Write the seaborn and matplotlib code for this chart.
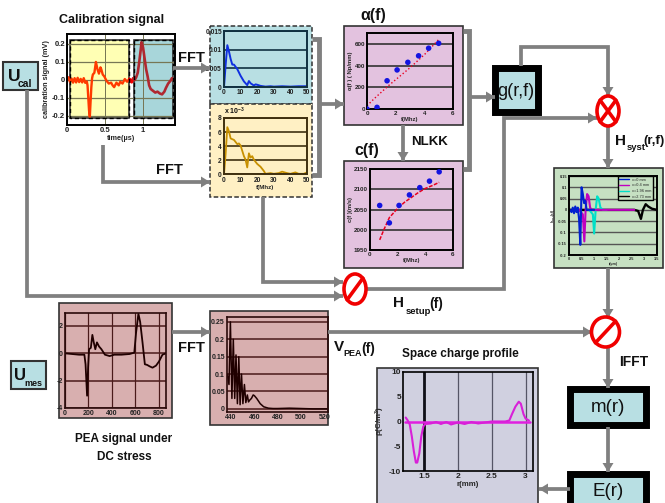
import matplotlib
matplotlib.use("Agg")
import matplotlib.pyplot as plt
from matplotlib.patches import Rectangle, Ellipse, Polygon
import seaborn as sns

sns.set_theme(style="white")
plt.rcParams['font.family'] = ['Liberation Sans', 'DejaVu Sans']
plt.rcParams['mathtext.fontset'] = 'custom'
plt.rcParams['mathtext.rm'] = 'Liberation Sans:bold'
plt.rcParams['mathtext.default'] = 'rm'

# ---------- data ----------
cal_time = [0, .02, .04, .06, .08, .1, .12, .14, .16, .18, .2, .22, .24, .26, .27, .28, .29, .3, .31, .32, .33, .34, .36, .37, .38, .4, .42, .44, .45, .47, .49, .52, .55, .58, .6, .62, .65, .68, .7, .73, .76, .79, .82, .85, .87, .89, .91, .93, .95, .97, .98, 1.0, 1.02, 1.04, 1.06, 1.08, 1.1, 1.13, 1.16, 1.19, 1.22, 1.25, 1.28, 1.3, 1.33, 1.36, 1.38, 1.4]
cal_signal = [0, .012, -.012, .008, -.015, .01, -.014, .012, -.012, .006, -.014, .01, -.016, -.008, -.03, -.1, -.17, -.205, -.12, -.04, .01, .03, .04, .07, .1, .06, .035, .07, .06, .03, .02, -.005, -.02, -.015, -.03, -.04, -.015, -.03, -.01, -.02, .005, -.01, .005, -.012, .008, 0, .015, .04, .1, .17, .21, .18, .12, .06, .02, -.03, -.05, -.06, -.07, -.065, -.075, -.08, -.065, -.045, -.02, -.005, .01, 0]

fft_freq = [0, 1, 2, 3, 4, 5, 6, 7, 8, 10, 12, 14, 15, 16, 18, 19, 20, 22, 25, 28, 30, 35, 40, 45, 50]
fft_teal = [0, .006, .0112, .0095, .0075, .006, .006, .0054, .0048, .003, .0015, .0005, .0016, .001, .0004, .0007, .0006, .0003, .0001, .0002, .0001, .0002, .0001, .0002, .0002]
fft_y_freq = [0, 1, 2, 3, 4, 6, 8, 9, 10, 12, 13, 14, 15, 16, 17, 18, 20, 22, 24, 25, 28, 30, 33, 35, 38, 40, 43, 45, 48, 50]
fft_yellow = [0, 3, 6.7, 6.1, 5.1, 4.9, 4.3, 4.4, 4.1, 2.6, 2.1, 1, 3, 2.4, 2.6, 2.1, 1.5, 1.1, .5, .1, .2, .1, .2, .4, .2, .1, .3, .1, .1, .3]

alpha_f = [0, .7, 1.4, 2.1, 2.85, 3.6, 4.3, 5]
alpha_val = [0, 15, 260, 360, 430, 490, 560, 605]
alpha_fit_f = [0, .5, 1, 1.5, 2, 2.5, 3, 3.5, 4, 4.5, 5]
alpha_fit = [30, 95, 155, 215, 270, 325, 380, 440, 500, 570, 640]

c_f = [.7, 1.4, 2.1, 2.85, 3.6, 4.3, 5]
c_val = [2060, 2017, 2060, 2086, 2104, 2120, 2143]
c_fit_f = [.7, 1, 1.4, 2, 2.5, 3, 3.5, 4, 4.5, 5]
c_fit = [1975, 2000, 2030, 2053, 2068, 2080, 2092, 2102, 2109, 2117]

h_r0 = [0, .1, .15, .2, .25, .3, .35, .4, .45, .5, .55, .6, .65, .7, .8, 1]
h_v0 = [.005, -.01, .01, -.015, .015, -.01, .01, -.04, -.155, .1, .07, .03, .04, 0, 0, 0]
h_r1 = [.4, .55, .61, .66, .72, .78, .84, .9, 1.2, 2.6]
h_v1 = [0, -.02, -.14, 0, .07, .06, .01, 0, 0, 0]
h_r2 = [.8, .95, 1.0, 1.06, 1.12, 1.18, 1.25, 1.35, 1.5]
h_v2 = [0, -.02, -.105, 0, .06, .05, .01, 0, 0]
h_r3 = [0, 2.6, 2.75, 2.86, 2.94, 3.05, 3.15, 3.3, 3.5]
h_v3 = [0, 0, -.005, -.04, 0, .025, .015, .005, 0]
legend_names = ['x=0 mm', 'x=0.4 mm', 'x=1.96 mm', 'x=2.73 mm']

pea_x = [0, 60, 120, 165, 175, 188, 197, 205, 220, 233, 245, 258, 272, 290, 310, 340, 380, 420, 480, 550, 590, 605, 625, 640, 660, 680, 700, 720, 745, 775, 800, 830, 860]
pea_y = [0, -.05, -.1, -.1, -.8, -3.1, -1, .3, .4, 1.35, .8, .3, .8, .5, .3, -.1, -.2, -.1, -.1, -.05, .05, 1.5, 2.9, 2.3, .8, -.8, -.85, -.95, -1.05, -.9, -.6, -.1, 0]

vpea_f = [436.8, 438.3, 439.5, 440.8, 442, 443.2, 444.3, 445.5, 446.7, 447.8, 449, 450.2, 451.5, 452.7, 454, 455, 456, 457.5, 459, 460, 462, 465, 468, 472, 476, 480, 490, 500, 510, 523]
vpea_v = [.1, .07, .25, .03, .2, .03, .155, .015, .15, .012, .1, .015, .07, .018, .04, .02, .025, .03, .04, .038, .03, .015, .006, .002, .001, .001, .002, .001, 0, 0]

rho_r = [1.23, 1.26, 1.29, 1.32, 1.35, 1.38, 1.4, 1.43, 1.46, 1.49, 1.52, 1.6, 1.68, 1.75, 1.83, 1.9, 2, 2.1, 2.2, 2.3, 2.5, 2.7, 2.76, 2.8, 2.85, 2.9, 2.93, 2.97, 3.0, 3.05]
rho_v = [.8, .2, -.6, -3, -6, -8.3, -8.3, -6.5, -3, -1, -.5, -.4, -.1, -.5, -.1, -.6, -.2, -.5, -.1, -.4, 0, 0, .2, 1.5, 3, 4, 3.6, 1.5, .6, .2]
rho_zero_r = [1.22, 3.07]
rho_zero_v = [0, 0]

# ---------- colours ----------
TEAL = '#B8DFE3'
YELLOW = '#FFF0C4'
PLUM = '#E3C2DF'
ROSE = '#D8AFAF'
GREEN = '#C6E0C2'
LAV = '#D0D0E0'
GRAY = '#808080'
W, H = 665, 503

fig = plt.figure(figsize=(W / 100, H / 100), dpi=100)


def layer(z):
    a = fig.add_axes([0, 0, 1, 1], zorder=z)
    a.set_xlim(0, W)
    a.set_ylim(H, 0)
    a.axis('off')
    a.patch.set_alpha(0)
    return a


bg = layer(0)
fg = layer(5)


def panel(x0, y0, x1, y1, xlim, ylim, xt, yt, xl=None, yl=None, xfmt=None, yfmt=None,
          fs=5.5, spine='black', grid='#333333', lw=1.4, glw=1.2, vgrid=False):
    a = fig.add_axes([x0 / W, 1 - y1 / H, (x1 - x0) / W, (y1 - y0) / H], zorder=2)
    a.patch.set_alpha(0)
    a.set_axisbelow(True)
    a.set_xlim(*xlim)
    a.set_ylim(*ylim)
    a.set_xticks(xt)
    a.set_yticks(yt)
    a.set_xticklabels(xfmt if xfmt else [str(v) for v in xt])
    a.set_yticklabels(yfmt if yfmt else [str(v) for v in yt])
    a.tick_params(labelsize=fs, length=1.5, width=.8, pad=1.5, colors='#222222', direction='in')
    a.grid(True, axis='y', color=grid, lw=glw)
    if vgrid:
        a.grid(True, axis='x', color=grid, lw=glw * .8)
    for s in a.spines.values():
        s.set_color(spine)
        s.set_linewidth(lw)
        s.set_visible(True)
    for lbl in a.get_xticklabels() + a.get_yticklabels():
        lbl.set_fontweight('bold')
    if xl:
        a.set_xlabel(xl, fontsize=fs - .3, fontweight='bold', labelpad=1)
    if yl:
        a.set_ylabel(yl, fontsize=fs - .3, fontweight='bold', labelpad=1)
    return a


def box(x0, y0, x1, y1, fc, ec='#333333', lw=1.2, ls='-', layerax=bg, alpha=1, z=1):
    layerax.add_patch(Rectangle((x0, y0), x1 - x0, y1 - y0, facecolor=fc, edgecolor=ec,
                                lw=lw, ls=ls, alpha=alpha, zorder=z))


def wire(pts, head=True, lw=2.7):
    xs = [p[0] for p in pts]
    ys = [p[1] for p in pts]
    fg.plot(xs, ys, color=GRAY, lw=lw, solid_joinstyle='miter', solid_capstyle='butt', zorder=3)
    if head:
        (xa, ya), (xb, yb) = pts[-2], pts[-1]
        dx = (xb > xa) - (xb < xa)
        dy = (yb > ya) - (yb < ya)
        L, S = 9, 5.5
        fg.add_patch(Polygon([(xb, yb), (xb - dx * L - dy * S, yb - dy * L - dx * S),
                              (xb - dx * L + dy * S, yb - dy * L + dx * S)],
                             facecolor=GRAY, edgecolor='none', zorder=4))


def txt(x, y, s, size=11, ha='center', weight='bold', **kw):
    fg.text(x, y, s, fontsize=size, ha=ha, va='center', fontweight=weight, color='#111111', **kw)


def circle(cx, cy, rx, ry, cross):
    fg.add_patch(Ellipse((cx, cy), 2 * rx, 2 * ry, facecolor='white', edgecolor='#F00000', lw=2.6, zorder=6))
    k = .72
    fg.plot([cx - rx * k, cx + rx * k], [cy + ry * k, cy - ry * k], color='#F00000', lw=2.6, zorder=7)
    if cross:
        fg.plot([cx - rx * k, cx + rx * k], [cy - ry * k, cy + ry * k], color='#F00000', lw=2.6, zorder=7)


def line(a, x, y, color, lw=1.2, ls='-'):
    sns.lineplot(x=x, y=y, ax=a, color=color, lw=lw, ls=ls, estimator=None, sort=False, legend=False)


def dots(a, x, y):
    sns.scatterplot(x=x, y=y, ax=a, color='#1414E0', s=16, edgecolor='none', legend=False, zorder=4)


# ---------- background boxes ----------
box(3, 62, 38, 90, TEAL, lw=1.5)
box(11, 361, 46, 389, TEAL, lw=1.5)
box(210, 26, 312, 104, TEAL, ls=(0, (3, 1.5)), lw=1.1)
box(210, 104, 312, 197, YELLOW, ls=(0, (3, 1.5)), lw=1.1)
box(344, 26, 463, 125, PLUM)
box(344, 161, 463, 268, PLUM)
box(554, 168, 663, 268, GREEN)
box(59, 303, 172, 418, ROSE)
box(210, 311, 328, 425, ROSE)
box(377, 368, 538, 510, LAV)
box(495, 68, 538, 112, TEAL, ec='black', lw=5)
box(570, 389, 646, 425, TEAL, ec='black', lw=5)
box(570, 474, 646, 510, TEAL, ec='black', lw=5)
box(70, 40, 129, 118, '#FFFFB4')
box(134, 40, 173, 118, '#A8D6DA')

# ---------- charts ----------
ax = panel(67, 34, 175, 125, (0, 1.42), (-.25, .255), [0, .5, 1], [-.2, -.1, 0, .1, .2],
           xl='time(µs)', yl='calibration signal (mV)', xfmt=['0', '0.5', '1'],
           yfmt=['-0.2', '-0.1', '0', '0.1', '0.2'], grid='#777755', glw=.9, vgrid=True)
line(ax, cal_time[:2], cal_signal[:2], '#F00000', lw=2.2)
line(ax, cal_time[1:43], cal_signal[1:43], '#FF3A00', lw=1.7)
line(ax, cal_time[42:45], cal_signal[42:45], '#F00000', lw=2.2)
line(ax, cal_time[44:], cal_signal[44:], '#B02830', lw=1.9)
ax.set_xlim(0, 1.42)
ax.set_ylim(-.25, .255)

box(70, 40, 129, 118, 'none', layerax=fg, ec='black', ls=(0, (3, 2)), lw=1)
box(134, 40, 173, 118, 'none', layerax=fg, ec='black', ls=(0, (3, 2)), lw=1)

ax = panel(224, 31, 307, 87, (0, 50), (0, .015), [0, 10, 20, 30, 40, 50], [0, .005, .01, .015],
           yfmt=['0', '0.005', '0.01', '0.015'], spine='#103040', grid='#103040', fs=4.8)
line(ax, fft_freq, fft_teal, '#1030E0', lw=1.4)
ax.set_xlim(0, 50)
ax.set_ylim(0, .015)

ax = panel(224, 118, 307, 174.5, (0, 50), (0, 8), [0, 10, 20, 30, 40, 50], [0, 2, 4, 6, 8],
           xl='f(Mhz)', spine='#403010', grid='#403010', fs=4.8)
line(ax, fft_y_freq, fft_yellow, '#C89000', lw=1.3)
ax.set_xlim(0, 50)
ax.set_ylim(0, 8)
txt(224, 111, 'x 10$^{-3}$', size=5, ha='left')

ax = panel(367, 33, 453, 109, (0, 6), (0, 700), [0, 2, 4, 6], [0, 200, 400, 600],
           xl='f(Mhz)', yl='α(f ) ( Np/mm)', fs=4.5)
line(ax, alpha_fit_f, alpha_fit, '#E80020', lw=1, ls=':')
dots(ax, alpha_f, alpha_val)
ax.set_xlim(0, 6)
ax.set_ylim(0, 700)

ax = panel(370, 169, 453, 250, (0, 6), (1950, 2150), [0, 2, 4, 6], [1950, 2000, 2050, 2100, 2150],
           xl='f(Mhz)', yl='c(f )(m/s)', fs=4.5)
line(ax, c_fit_f, c_fit, '#E80020', lw=1.1, ls=(0, (2.5, 1)))
dots(ax, c_f, c_val)
ax.set_xlim(0, 6)
ax.set_ylim(1950, 2150)

ax = panel(569, 176, 657, 255, (0, 3.5), (-.2, .15), [0, .5, 1, 1.5, 2, 2.5, 3, 3.5],
           [-.2, -.15, -.1, -.05, 0, .05, .1, .15], xl='r(µm)', yl='h$_{syst}$(r,f)',
           xfmt=['0', '0.5', '1', '1.5', '2', '2.5', '3', '3.5'],
           yfmt=['-0.2', '-0.15', '-0.1', '-0.05', '0', '0.05', '0.1', '0.15'],
           fs=2.8, grid='#555555', glw=1.0)
line(ax, h_r3, h_v3, 'black', lw=1.7)
line(ax, h_r2, h_v2, '#00E0C8', lw=1.5)
line(ax, h_r1, h_v1, '#C000C0', lw=1.5)
line(ax, h_r0, h_v0, '#0020D0', lw=1.5)
for name, col in zip(legend_names, ['#0020D0', '#C000C0', '#00E0C8', 'black']):
    ax.plot([], [], color=col, lw=1, label=name)
leg = ax.legend(loc='upper right', fontsize=2.8, frameon=True, fancybox=False, edgecolor='black',
                facecolor=GREEN, framealpha=1, borderpad=.4, labelspacing=.45, handlelength=2.4,
                bbox_to_anchor=(.95, 1.0), borderaxespad=0)
ax.set_xlim(0, 3.5)
ax.set_ylim(-.2, .15)

ax = panel(65, 313, 166, 408, (0, 860), (-4, 2.95), [0, 200, 400, 600, 800], [-4, -2, 0, 2],
           spine='#2A0A0A', grid='#4A1A1A', fs=5, vgrid=True, glw=1.1, lw=1.2)
line(ax, pea_x, pea_y, '#200000', lw=1.3)
ax.set_xlim(0, 860)
ax.set_ylim(-4, 2.95)

ax = panel(227, 317, 328, 412, (436.6, 523), (-.009, .264), [440, 460, 480, 500, 520],
           [0, .05, .1, .15, .2, .25], yfmt=['0', '0.05', '0.1', '0.15', '0.2', '0.25'],
           spine='#2A0A0A', grid='#4A1A1A', fs=5, glw=1.1, lw=1.2)
line(ax, vpea_f, vpea_v, '#200000', lw=1.1)
ax.set_xlim(436.6, 523)
ax.set_ylim(-.009, .264)

ax = panel(403, 372, 533, 471, (1.19, 3.11), (-10, 10), [1.5, 2, 2.5, 3], [-10, -5, 0, 5, 10],
           xl='r(mm)', yl='ρ(C/m$^3$)', xfmt=['1.5', '2', '2.5', '3'],
           fs=6, grid='#444444', glw=.8, lw=1.2)
ax.grid(False, axis='y')
ax.grid(True, axis='x', color='#555566', lw=.9)
ax.axvline(1.5, color='#101018', lw=2)
line(ax, rho_zero_r, rho_zero_v, '#E020E0', lw=1.8)
line(ax, rho_r, rho_v, '#D820D8', lw=1.5)
ax.set_xlim(1.19, 3.11)
ax.set_ylim(-10, 10)

# ---------- wires ----------
wire([(27, 90), (27, 296), (343, 296)])
wire([(103, 145), (103, 182), (210, 182)])
wire([(173, 68), (210, 68)])
wire([(263, 197), (263, 282), (343, 282)])
wire([(312, 39), (319, 39), (319, 175), (312, 175)], head=False, lw=3.5)
wire([(319, 104), (344, 104)])
wire([(403, 125), (403, 161)])
wire([(463, 31), (469, 31), (469, 169), (463, 169)], head=False, lw=3.5)
wire([(469, 97), (495, 97)])
wire([(521, 66), (521, 47), (608, 47), (608, 96)])
wire([(367, 289), (504, 289), (504, 118), (597, 118)])
wire([(608, 126), (608, 168)])
wire([(608, 268), (608, 318)])
wire([(172, 332), (210, 332)])
wire([(328, 332), (592, 332)])
wire([(608, 345), (608, 388)])
wire([(608, 427), (608, 472)])
wire([(570, 489), (539, 489)])

circle(608, 111, 11, 15, True)
circle(355, 289, 11, 15, False)
circle(605.5, 332, 14, 15, False)

# ---------- labels ----------
txt(112, 20, 'Calibration signal', size=9)
txt(191, 58, 'FFT', size=10.5)
txt(169, 170, 'FFT', size=10.5)
txt(191, 348, 'FFT', size=10.5)
txt(373, 15, 'α(f)', size=11.5)
txt(367, 150, 'c(f)', size=11.5)
txt(430, 142, 'NLKK', size=9.5)
txt(634, 362, 'IFFT', size=10)
txt(460, 354, 'Space charge profile', size=8.5)
txt(124, 439, 'PEA signal under', size=8.5)
txt(124, 457, 'DC stress', size=8.5)

txt(14, 76, 'U', size=12.5)
txt(25, 84, 'cal', size=7.5)
txt(20, 376, 'U', size=12)
txt(33, 384, 'mes', size=6.5)

txt(620, 141, 'H', size=11)
txt(636, 148, 'syst', size=6.8)
txt(654, 141, '(r,f)', size=9.5)
txt(399, 303, 'H', size=11)
txt(418, 311, 'setup', size=6.8)
txt(436, 304, '(f)', size=10)
txt(339, 347, 'V', size=11)
txt(353, 354, 'PEA', size=6.5)
txt(368, 349, '(f)', size=10)

txt(516, 91, 'g(r,f)', size=13, weight='normal')
txt(608, 408, 'm(r)', size=13.5, weight='normal')
txt(608, 491, 'E(r)', size=13.5, weight='normal')

fig.savefig('out.png', dpi=100)
